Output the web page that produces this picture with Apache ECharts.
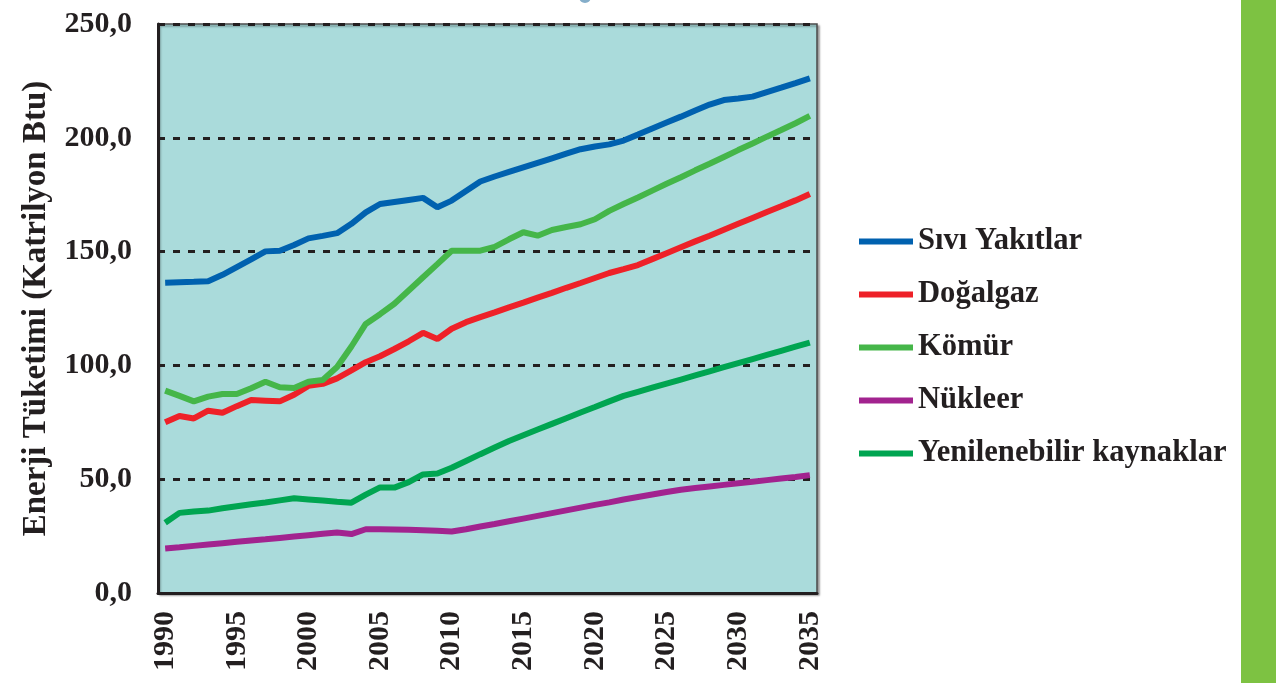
<!DOCTYPE html>
<html>
<head>
<meta charset="utf-8">
<script src="https://cdn.jsdelivr.net/npm/echarts@6/dist/echarts.min.js"></script>
<style>
html,body{margin:0;padding:0;background:#fff;}
#main{width:1276px;height:683px;}
</style>
</head>
<body>
<div id="main"></div>
<script>
const years = ['1990','1991','1992','1993','1994','1995','1996','1997','1998','1999',
  '2000','2001','2002','2003','2004','2005','2006','2007','2008','2009',
  '2010','2011','2012','2013','2014','2015','2016','2017','2018','2019',
  '2020','2021','2022','2023','2024','2025','2026','2027','2028','2029',
  '2030','2031','2032','2033','2034','2035'];

const seriesNames = ['Sıvı Yakıtlar','Doğalgaz','Kömür','Nükleer','Yenilenebilir kaynaklar'];

const siviYakitlar = [136.3,136.5,136.7,137.0,139.8,143.2,146.6,150.1,150.4,152.9,
  155.8,156.9,158.1,162.2,167.2,170.9,171.8,172.7,173.6,169.5,
  172.4,176.6,180.8,183.0,185.0,187.0,189.0,191.0,193.0,195.0,
  196.2,197.1,198.8,201.4,204.1,206.7,209.3,212.0,214.6,216.6,
  217.3,218.1,220.1,222.0,224.0,226.1];

const dogalgaz = [75.0,77.8,76.7,80.1,79.2,82.1,84.8,84.5,84.2,87.1,
  91.0,91.9,94.3,97.8,101.4,104.0,107.2,110.6,114.3,111.6,
  116.1,119.0,121.2,123.3,125.5,127.6,129.8,131.9,134.1,136.2,
  138.4,140.6,142.3,144.1,146.7,149.3,151.9,154.5,157.0,159.6,
  162.2,164.8,167.4,169.9,172.5,175.3];

const komur = [88.9,86.6,84.2,86.3,87.4,87.4,90.0,92.8,90.4,90.1,
  92.8,93.6,99.3,108.3,118.2,122.5,127.1,132.9,138.7,144.5,
  150.4,150.4,150.4,152.1,155.4,158.5,157.0,159.5,160.8,162.0,
  164.2,167.9,170.9,173.8,176.8,179.8,182.7,185.7,188.6,191.6,
  194.6,197.5,200.5,203.4,206.4,209.6];

const nukleer = [19.6,20.1,20.7,21.3,21.9,22.5,23.1,23.6,24.2,24.8,
  25.4,26.0,26.6,25.9,28.0,28.0,27.9,27.8,27.6,27.3,
  27.0,28.0,29.2,30.3,31.5,32.7,33.9,35.1,36.3,37.5,
  38.7,39.8,41.1,42.2,43.3,44.4,45.4,46.1,46.8,47.5,
  48.2,48.9,49.6,50.3,51.0,51.8];

const yenilenebilir = [30.9,35.2,35.8,36.2,37.2,38.1,39.0,39.8,40.7,41.6,
  41.1,40.6,40.1,39.7,43.2,46.4,46.3,48.7,52.1,52.5,
  55.0,58.0,61.0,63.9,66.8,69.3,71.8,74.3,76.8,79.3,
  81.7,84.2,86.6,88.4,90.2,92.0,93.8,95.6,97.4,99.2,
  101.0,102.8,104.6,106.4,108.2,110.0];

const colors = ['#0061AF','#EE2128','#45B649','#A2238F','#00A551'];
const values = [siviYakitlar, dogalgaz, komur, nukleer, yenilenebilir];

const FONT = "'Liberation Serif', 'Times New Roman', serif";
const TXT = '#231F20';

const chart = echarts.init(document.getElementById('main'), null, {renderer:'canvas'});
chart.setOption({
  animation: false,
  backgroundColor: '#ffffff',
  color: colors,
  graphic: [
    { type: 'rect', left: 1241, top: 0, shape: { width: 35, height: 683 }, style: { fill: '#7DC242' }, z: 0 },
    { type: 'circle', shape: { cx: 585, cy: -3, r: 6 }, style: { fill: '#85AECA' } }
  ],
  grid: {
    left: 158, right: 459, top: 24, bottom: 90,
    show: true,
    backgroundColor: '#AADBDB',
    borderColor: '#4a4a4a',
    borderWidth: 1.5,
    shadowColor: 'rgba(0,0,0,0.35)',
    shadowBlur: 2,
    shadowOffsetX: 2,
    shadowOffsetY: 2
  },
  legend: {
    orient: 'vertical',
    left: 854,
    top: 221,
    itemWidth: 54,
    itemHeight: 6,
    itemGap: 22,
    icon: 'rect',
    textStyle: { fontFamily: FONT, fontWeight: 'bold', fontSize: 30.6, color: TXT, lineHeight: 30 },
    data: seriesNames
  },
  xAxis: {
    type: 'category',
    data: years,
    boundaryGap: true,
    axisLine: { show: true, lineStyle: { color: TXT, width: 3 } },
    axisTick: { show: false },
    splitLine: { show: false },
    axisLabel: {
      interval: 4,
      rotate: 90,
      margin: 18,
      fontFamily: FONT, fontWeight: 'bold', fontSize: 30, color: TXT
    }
  },
  yAxis: {
    type: 'value',
    min: 0, max: 250, interval: 50,
    name: 'Enerji Tüketimi (Katrilyon Btu)',
    nameLocation: 'middle',
    nameGap: 105,
    nameTextStyle: { fontFamily: FONT, fontWeight: 'bold', fontSize: 33, color: TXT },
    axisLine: { show: true, lineStyle: { color: TXT, width: 3 } },
    axisTick: { show: false },
    axisLabel: {
      margin: 26,
      fontFamily: FONT, fontWeight: 'bold', fontSize: 30, color: TXT,
      formatter: v => v.toFixed(1).replace('.', ',')
    },
    splitLine: { show: true, lineStyle: { color: TXT, width: 3, type: [7, 8] } }
  },
  series: seriesNames.map((n, i) => ({
    name: n,
    type: 'line',
    data: values[i],
    symbol: 'none',
    showSymbol: false,
    lineStyle: { width: 6, color: colors[i] },
    itemStyle: { color: colors[i] }
  }))
});
</script>
</body>
</html>
